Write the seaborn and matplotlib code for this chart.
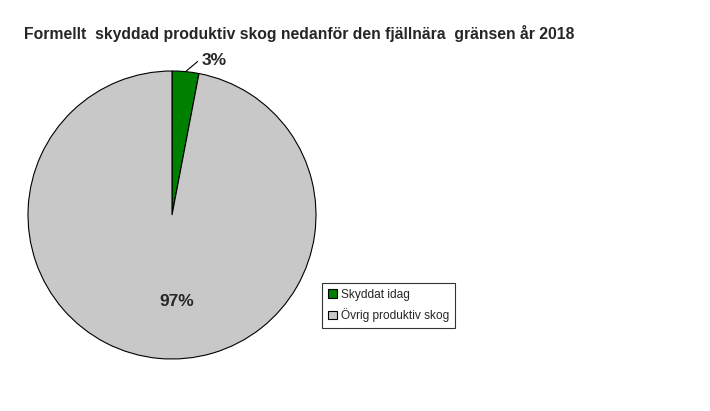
import matplotlib
matplotlib.use("Agg")
import matplotlib.pyplot as plt
import seaborn as sns
import numpy as np

labels = ["Skyddat idag", "Övrig produktiv skog"]
values = [3, 97]
pct_labels = ["3%", "97%"]
colors = ["#008000", "#C8C8C8"]
title = "Formellt  skyddad produktiv skog nedanför den fjällnära  gränsen år 2018"

sns.set_style("white")
plt.rcParams['font.family'] = ['Liberation Sans', 'DejaVu Sans']

W, H = 710, 411
fig = plt.figure(figsize=(W/100, H/100), dpi=100)
cx, cy, r = 172, 215, 144
ax = fig.add_axes([(cx - r)/W, (H - cy - r)/H, 2*r/W, 2*r/H])
wedges, _ = ax.pie(values, colors=colors, startangle=90, counterclock=False,
                   wedgeprops=dict(edgecolor="black", linewidth=0.8))
ax.set_xlim(-1, 1); ax.set_ylim(-1, 1)
ax.set_aspect("equal")
ax.axis("off")

# labels
w0 = wedges[0]
mid = np.deg2rad((w0.theta1 + w0.theta2) / 2)
ax.annotate(pct_labels[0], xy=(np.cos(mid), np.sin(mid)),
            xytext=(np.cos(mid) + 0.115, np.sin(mid) + 0.075),
            fontsize=12.5, fontweight="bold", va="center", ha="left",
            arrowprops=dict(arrowstyle="-", color="black", lw=0.8,
                            shrinkA=1, shrinkB=0,
                            connectionstyle="angle,angleA=0,angleB=40,rad=0"),
            annotation_clip=False)
w1 = wedges[1]
mid1 = np.deg2rad((w1.theta1 + w1.theta2) / 2)
ax.text(0.58*np.cos(mid1) + 0.09, 0.58*np.sin(mid1) - 0.02, pct_labels[1],
        fontsize=12.5, fontweight="bold", ha="center", va="center")

fig.text(24/W, 1 - 33/H, title, fontsize=11.35, fontweight="bold",
         ha="left", va="center")

leg = fig.legend(wedges, labels, loc="upper left",
                 bbox_to_anchor=(322/W, 1 - 283/H),
                 fontsize=8.6, frameon=True, fancybox=False,
                 edgecolor="black", handlelength=0.75, handleheight=0.75,
                 handletextpad=0.3, borderpad=0.5, labelspacing=0.6,
                 borderaxespad=0)
leg.get_frame().set_linewidth(0.8)

fig.savefig("out.png", dpi=100, facecolor="white")
